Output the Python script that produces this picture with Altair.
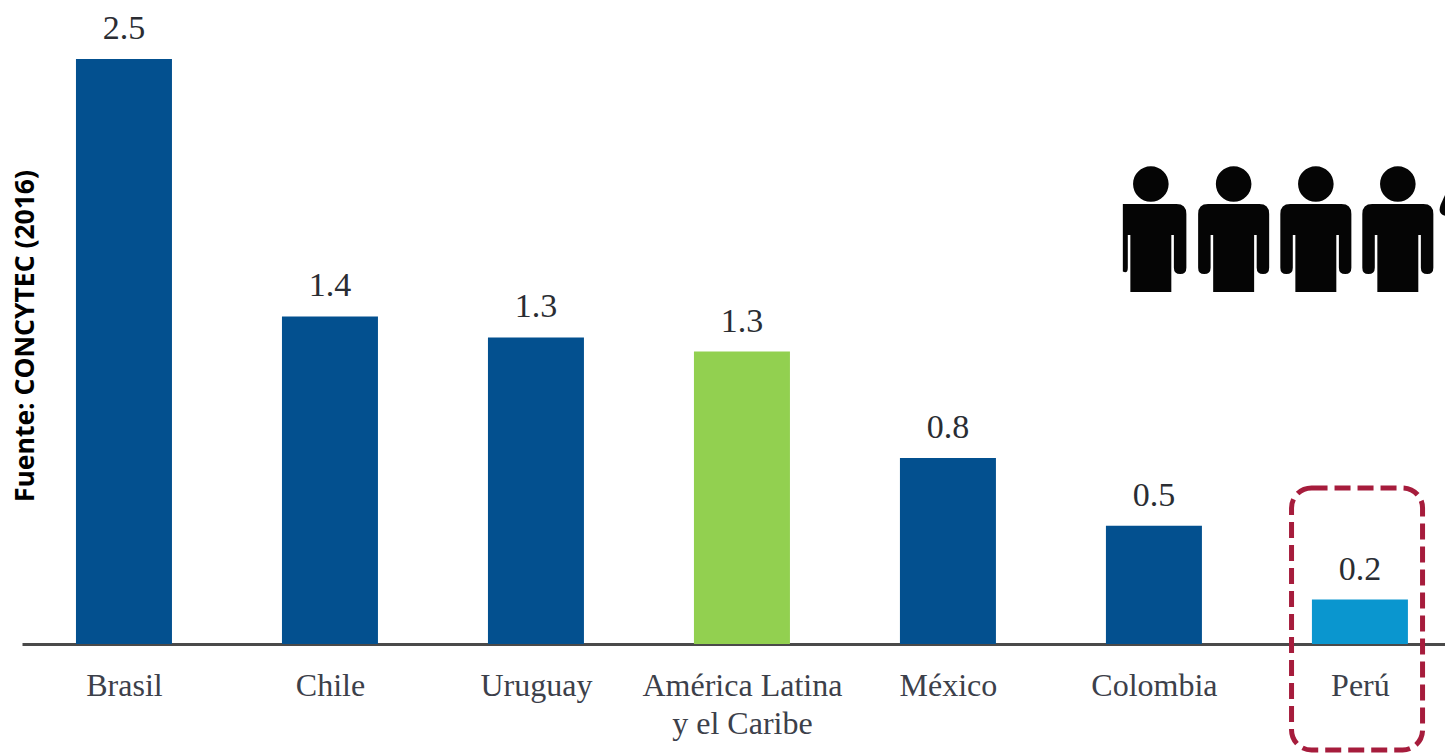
import altair as alt
import pandas as pd

paises = ["Brasil", "Chile", "Uruguay", "América Latina|y el Caribe", "México", "Colombia", "Perú"]
grupos = ["país", "país", "país", "región", "país", "país", "foco"]
alturas = [2.5, 1.40, 1.31, 1.25, 0.795, 0.505, 0.19]
etiquetas = ["2.5", "1.4", "1.3", "1.3", "0.8", "0.5", "0.2"]
indices = list(range(7))

personas_x = [5.387, 5.786, 6.184]
persona_recortada_x = [4.985]
fragmento_x = [6.388]
personas_y = 1.778

HEAD = "M0 -0.965A0.278 0.278 0 1 1 0 -0.409A0.278 0.278 0 1 1 0 -0.965Z"
PERSONA = HEAD + ("M-0.4 -0.375L0.4 -0.375Q0.555 -0.375 0.555 -0.22L0.555 0.62Q0.555 0.719 0.46 0.719"
                  "Q0.36 0.719 0.36 0.62L0.36 0.109L0.32 0.109L0.32 1L-0.32 1L-0.32 0.109L-0.36 0.109"
                  "L-0.36 0.62Q-0.36 0.719 -0.46 0.719Q-0.555 0.719 -0.555 0.62L-0.555 -0.22"
                  "Q-0.555 -0.375 -0.4 -0.375Z")
PERSONA_RECORTADA = HEAD + ("M-0.4375 -0.375L0.4 -0.375Q0.555 -0.375 0.555 -0.22L0.555 0.62Q0.555 0.719 0.46 0.719"
                            "Q0.36 0.719 0.36 0.62L0.36 0.109L0.32 0.109L0.32 1L-0.32 1L-0.32 0.109L-0.36 0.109"
                            "L-0.36 0.62Q-0.36 0.719 -0.4375 0.68Z")
FRAGMENTO = "M0.203 -0.781L0.01 -0.36Q-0.03 -0.24 0.047 -0.203L0.203 -0.14Z"

df = pd.DataFrame({
    "i": indices,
    "x0": [i - 0.233 for i in indices],
    "x1": [i + 0.233 for i in indices],
    "pais": paises,
    "grupo": grupos,
    "v": alturas,
    "base": [0] * 7,
    "label": etiquetas,
})

x_scale = alt.Scale(domain=[-0.495, 6.413], nice=False, zero=False)
y_scale = alt.Scale(domain=[0, 2.718], nice=False, zero=False)
nombres = "[" + ",".join("'" + p + "'" for p in paises) + "]"

x_axis = alt.Axis(
    values=indices, title=None, grid=False, ticks=False,
    domainColor="#4a4a4a", domainWidth=3,
    labelExpr="split(" + nombres + "[datum.value], '|')",
    labelFont="Liberation Serif", labelFontSize=32, labelColor="#3c404a",
    labelAngle=0, labelPadding=41, labelLineHeight=38, labelBaseline="middle",
    labelOverlap=False, labelFlush=False, labelLimit=400,
)

bars = alt.Chart(df).mark_rect().encode(
    x=alt.X("x0:Q", scale=x_scale, axis=x_axis),
    x2="x1:Q",
    y=alt.Y("v:Q", scale=y_scale, axis=None),
    y2="base:Q",
    color=alt.Color("grupo:N", legend=None,
                    scale=alt.Scale(domain=["país", "región", "foco"],
                                    range=["#03508F", "#92D050", "#0A96CF"])),
)

values = alt.Chart(df).mark_text(
    font="Liberation Serif", fontSize=34, color="#2a2d33",
    baseline="alphabetic", align="center", dy=-20,
).encode(x=alt.X("i:Q", scale=x_scale), y=alt.Y("v:Q", scale=y_scale), text="label:N")

fuente = alt.Chart(pd.DataFrame({"x": [-0.476], "y": [1.316], "t": ["Fuente: CONCYTEC (2016)"]})).mark_text(
    font="Open Sans", fontWeight="bold", fontSize=26.5, color="#000000",
    angle=270, align="center", baseline="middle",
).encode(x=alt.X("x:Q", scale=x_scale), y=alt.Y("y:Q", scale=y_scale), text="t:N")


def icono(xs, path):
    d = pd.DataFrame({"x": xs, "y": [personas_y] * len(xs)})
    return alt.Chart(d).mark_point(
        shape=path, size=16384, filled=True, color="#050505", opacity=1, strokeWidth=0,
    ).encode(x=alt.X("x:Q", scale=x_scale), y=alt.Y("y:Q", scale=y_scale))


marco = alt.Chart(pd.DataFrame({"x": [5.668], "x2": [6.304], "y": [0.667], "y2": [-0.453]})).mark_rect(
    filled=False, stroke="#A61C3C", strokeWidth=5, strokeDash=[16, 7], cornerRadius=20,
).encode(
    x=alt.X("x:Q", scale=x_scale), x2="x2:Q",
    y=alt.Y("y:Q", scale=y_scale), y2="y2:Q",
)

chart = alt.layer(
    bars, values, fuente,
    icono(personas_x, PERSONA),
    icono(persona_recortada_x, PERSONA_RECORTADA),
    icono(fragmento_x, FRAGMENTO),
    marco,
).properties(
    width=1423, height=636,
    autosize=alt.AutoSizeParams(type="none"),
    padding={"left": 14, "top": 0, "right": 0, "bottom": 110},
    background="#ffffff",
).configure_view(stroke=None)

chart.save("out.html", embed_options={"renderer": "svg", "actions": False})
